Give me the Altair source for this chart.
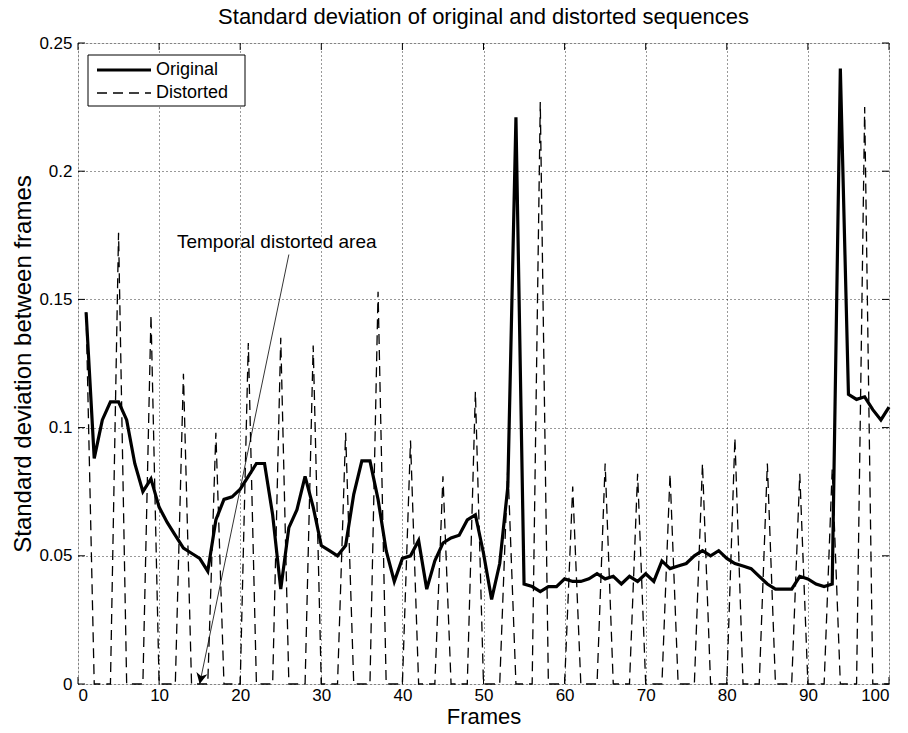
import altair as alt
import pandas as pd
import math

# ---------------- data ----------------
frames = list(range(1, 101))

original = [
    0.145, 0.088, 0.103, 0.110, 0.110, 0.103, 0.086, 0.075, 0.080, 0.069,
    0.063, 0.058, 0.053, 0.051, 0.049, 0.044, 0.064, 0.072, 0.073, 0.076,
    0.081, 0.086, 0.086, 0.066, 0.037, 0.061, 0.068, 0.081, 0.069, 0.054,
    0.052, 0.050, 0.054, 0.074, 0.087, 0.087, 0.072, 0.052, 0.040, 0.049,
    0.050, 0.056, 0.037, 0.048, 0.055, 0.057, 0.058, 0.064, 0.066, 0.051,
    0.033, 0.047, 0.077, 0.221, 0.039, 0.038, 0.036, 0.038, 0.038, 0.041,
    0.040, 0.040, 0.041, 0.043, 0.041, 0.042, 0.039, 0.042, 0.040, 0.043,
    0.040, 0.048, 0.045, 0.046, 0.047, 0.050, 0.052, 0.050, 0.052, 0.049,
    0.047, 0.046, 0.045, 0.042, 0.039, 0.037, 0.037, 0.037, 0.042, 0.041,
    0.039, 0.038, 0.039, 0.240, 0.113, 0.111, 0.112, 0.107, 0.103, 0.108,
]

distorted = [
    0.145, 0, 0, 0, 0.176, 0, 0, 0, 0.144, 0,
    0, 0, 0.121, 0, 0, 0, 0.098, 0, 0, 0,
    0.133, 0, 0, 0, 0.135, 0, 0, 0, 0.132, 0,
    0, 0, 0.098, 0, 0, 0, 0.153, 0, 0, 0,
    0.095, 0, 0, 0, 0.081, 0, 0, 0, 0.114, 0,
    0, 0, 0.085, 0, 0, 0, 0.227, 0, 0, 0,
    0.077, 0, 0, 0, 0.086, 0, 0, 0, 0.082, 0,
    0, 0, 0.082, 0, 0, 0, 0.086, 0, 0, 0,
    0.096, 0, 0, 0, 0.086, 0, 0, 0, 0.082, 0,
    0, 0, 0.084, 0, 0, 0, 0.225, 0, 0, 0,
]

x_ticks = [0, 10, 20, 30, 40, 50, 60, 70, 80, 90, 100]
y_ticks = [0, 0.05, 0.1, 0.15, 0.2, 0.25]

series_names = ["Original", "Distorted"]
annotation_text = "Temporal distorted area"
ann_text_pos = (12.2, 0.1725)
arrow_start = (26.0, 0.1675)
arrow_end = (15.0, 0.0)

# ---------------- layout ----------------
W, H = 811, 641
PAD_L, PAD_T = 78, 43
TICK = 7
FONT = "Liberation Sans"

px_per_x = W / 100.0
px_per_y = H / 0.25
dxp = (arrow_end[0] - arrow_start[0]) * px_per_x
dyp = -(arrow_end[1] - arrow_start[1]) * px_per_y
arrow_angle = math.degrees(math.atan2(-dxp, dyp))

df_o = pd.DataFrame({"frame": frames, "value": original})
df_d = pd.DataFrame({"frame": frames, "value": distorted})

xs = alt.Scale(domain=[0, 100], nice=False, zero=False)
ys = alt.Scale(domain=[0, 0.25], nice=False, zero=False)

x_axis = alt.Axis(values=x_ticks, title="Frames", grid=True, ticks=False, domain=False,
                  labelFontSize=17, labelFont=FONT, labelColor="black", labelPadding=3,
                  titleFontSize=22, titleFont=FONT, titleFontWeight="normal",
                  titleColor="black", titlePadding=3,
                  gridColor="#000000", gridDash=[1, 3], gridOpacity=0.8)
y_axis = alt.Axis(values=y_ticks, title="Standard deviation between frames", grid=True,
                  ticks=False, domain=False, format=".2~f",
                  labelFontSize=17, labelFont=FONT, labelColor="black", labelPadding=6,
                  titleFontSize=24, titleFont=FONT, titleFontWeight="normal",
                  titleColor="black", titlePadding=3,
                  gridColor="#000000", gridDash=[1, 3], gridOpacity=0.8)

dist_line = alt.Chart(df_d).mark_line(color="black", strokeWidth=1.3,
                                      strokeDash=[10, 6]).encode(
    x=alt.X("frame:Q", scale=xs, axis=x_axis),
    y=alt.Y("value:Q", scale=ys, axis=y_axis),
)
orig_line = alt.Chart(df_o).mark_line(color="black", strokeWidth=3.2,
                                      strokeJoin="miter").encode(
    x=alt.X("frame:Q", scale=xs),
    y=alt.Y("value:Q", scale=ys),
)

# inward ticks on four sides
df_xt = pd.DataFrame({"t": x_ticks})
df_yt = pd.DataFrame({"t": y_ticks})
tick_b = alt.Chart(df_xt).mark_rule(color="black", strokeWidth=1).encode(
    x=alt.X("t:Q", scale=xs), y=alt.value(H), y2=alt.value(H - TICK))
tick_t = alt.Chart(df_xt).mark_rule(color="black", strokeWidth=1).encode(
    x=alt.X("t:Q", scale=xs), y=alt.value(0), y2=alt.value(TICK))
tick_l = alt.Chart(df_yt).mark_rule(color="black", strokeWidth=1).encode(
    y=alt.Y("t:Q", scale=ys), x=alt.value(0), x2=alt.value(TICK))
tick_r = alt.Chart(df_yt).mark_rule(color="black", strokeWidth=1).encode(
    y=alt.Y("t:Q", scale=ys), x=alt.value(W), x2=alt.value(W - TICK))

# annotation
df_arrow = pd.DataFrame({"x": [arrow_start[0]], "y": [arrow_start[1]],
                         "x2": [arrow_end[0]], "y2": [arrow_end[1]]})
arrow_line = alt.Chart(df_arrow).mark_rule(color="black", strokeWidth=0.8).encode(
    x=alt.X("x:Q", scale=xs), y=alt.Y("y:Q", scale=ys),
    x2="x2:Q", y2="y2:Q")
df_head = pd.DataFrame({"x": [arrow_end[0]], "y": [arrow_end[1]]})
arrow_head = alt.Chart(df_head).mark_point(
    shape="M0,0L-0.5,-1L0,-0.7L0.5,-1Z", filled=True, color="black", opacity=1,
    size=500, angle=arrow_angle).encode(
    x=alt.X("x:Q", scale=xs), y=alt.Y("y:Q", scale=ys))
df_text = pd.DataFrame({"x": [ann_text_pos[0]], "y": [ann_text_pos[1]],
                        "label": [annotation_text]})
ann_text = alt.Chart(df_text).mark_text(align="left", baseline="middle",
                                        font=FONT, fontSize=19, color="black").encode(
    x=alt.X("x:Q", scale=xs), y=alt.Y("y:Q", scale=ys), text="label:N")

# legend box (pixel layout inside the plot area)
LX0, LX1, LY0, LY1 = 10, 167, 12, 63
row_y = [27, 50]
SX0, SX1, TX = 19, 73, 78
one = pd.DataFrame({"a": [0]})
leg_box = alt.Chart(one).mark_rect(
    fill="white", stroke="black", strokeWidth=1).encode(
    x=alt.value(LX0), x2=alt.value(LX1), y=alt.value(LY0), y2=alt.value(LY1))
leg_o = alt.Chart(one).mark_rule(color="black", strokeWidth=3.2).encode(
    x=alt.value(SX0), x2=alt.value(SX1), y=alt.value(row_y[0]))
leg_d = alt.Chart(one).mark_rule(
    color="black", strokeWidth=1.3, strokeDash=[10, 6]).encode(
    x=alt.value(SX0), x2=alt.value(SX1), y=alt.value(row_y[1]))
leg_t1 = alt.Chart(pd.DataFrame({"label": [series_names[0]]})).mark_text(
    align="left", baseline="middle", font=FONT, fontSize=18, color="black").encode(
    x=alt.value(TX), y=alt.value(row_y[0]), text="label:N")
leg_t2 = alt.Chart(pd.DataFrame({"label": [series_names[1]]})).mark_text(
    align="left", baseline="middle", font=FONT, fontSize=18, color="black").encode(
    x=alt.value(TX), y=alt.value(row_y[1]), text="label:N")

chart = alt.layer(
    dist_line, orig_line, arrow_line, arrow_head, ann_text,
    tick_b, tick_t, tick_l, tick_r,
    leg_box, leg_o, leg_d, leg_t1, leg_t2,
).properties(
    width=W, height=H,
    title=alt.TitleParams("Standard deviation of original and distorted sequences",
                          font=FONT, fontSize=22, fontWeight="normal", color="black",
                          offset=5),
    autosize=alt.AutoSizeParams(type="none"),
    padding={"left": PAD_L, "top": PAD_T, "right": 908 - PAD_L - W, "bottom": 733 - PAD_T - H},
).configure_view(
    stroke="black", strokeWidth=1
).configure(background="white")

chart.save("out.html", embed_options={"renderer": "svg", "actions": False})
